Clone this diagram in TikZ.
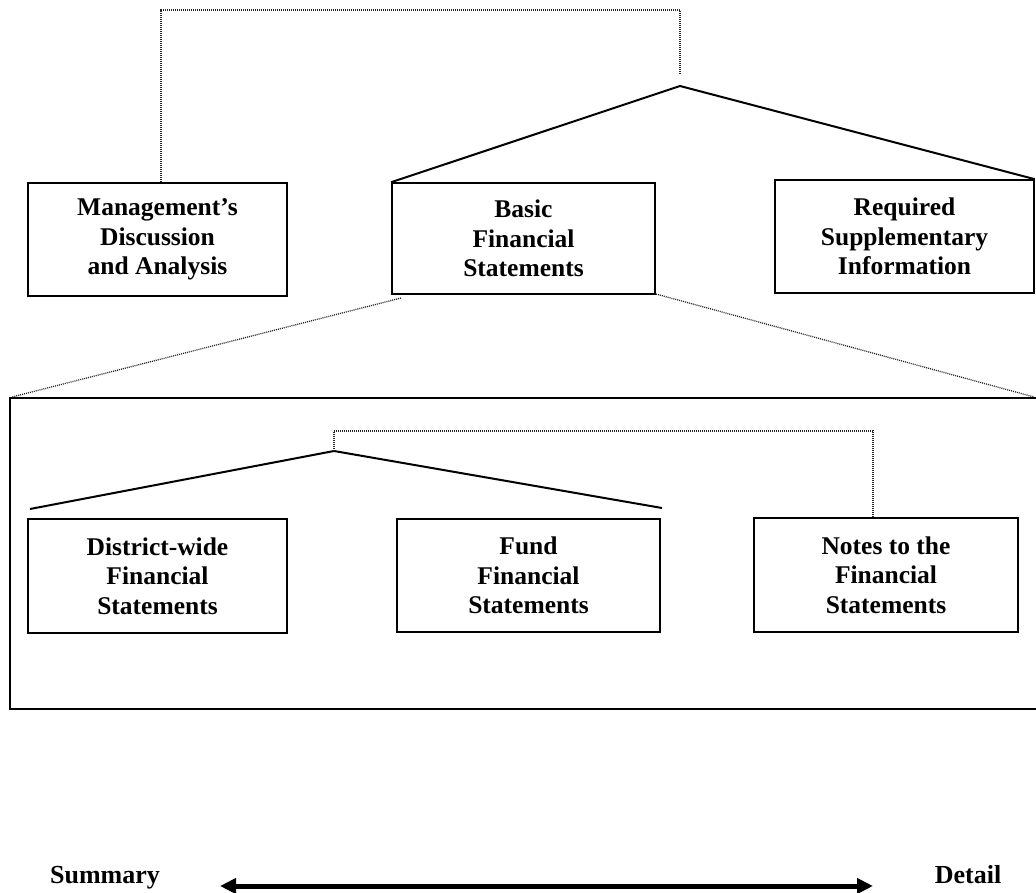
\documentclass[tikz,border=0pt]{standalone}
\usepackage{fontspec}
\setmainfont{Liberation Serif}
\usetikzlibrary{arrows.meta}
\begin{document}
\begin{tikzpicture}[x=1pt,y=-1pt,
  box/.style={draw=black,line width=1.6pt,align=center,inner sep=0pt,
    font=\fontsize{25.5}{29.5}\selectfont\bfseries},
  roof/.style={draw=black,line width=2pt,line join=miter},
  dotline/.style={draw=black!85,line width=1.3pt,dash pattern=on 1pt off 1pt},
  lbl/.style={font=\fontsize{26}{29}\selectfont\bfseries,inner sep=0pt,anchor=base}]
\useasboundingbox (0,0) rectangle (1036,893);
% top level boxes
\node[box,minimum width=259pt,minimum height=113pt] (mda) at (157.5,239.5)
  {Management's\\Discussion\\and Analysis};
\node[box,minimum width=263pt,minimum height=111pt] (bfs) at (523.5,238.5)
  {Basic\\Financial\\Statements};
\node[box,minimum width=259pt,minimum height=113pt] (rsi) at (904.5,236.5)
  {Required\\Supplementary\\Information};
% top connectors
\coordinate (apex) at (680,86);
\coordinate (topl) at (161,10);
\coordinate (topr) at (680,10);
\coordinate (topend) at (680,73);
\draw[dotline] (mda.north -| topl) -- (topl) -- (topr) -- (topend);
\draw[roof] (bfs.north west) -- (apex) -- (rsi.north east);
% container
\coordinate (ctl) at (10,398);
\coordinate (ctr) at (1036,398);
\coordinate (cbl) at (10,709);
\coordinate (cbr) at (1036,709);
\draw[line width=1.6pt] (ctr) -- (ctl) -- (cbl) -- (cbr);
\coordinate (bfsl) at (401,298);
\coordinate (bfsr) at (656,294);
\draw[dotline] (bfsl) -- (12,397);
\draw[dotline] (bfsr) -- (1034,397);
% inner boxes
\node[box,minimum width=259pt,minimum height=114pt] (dw) at (157.5,576)
  {District-wide\\Financial\\Statements};
\node[box,minimum width=263pt,minimum height=113pt] (fund) at (528.5,575.5)
  {Fund\\Financial\\Statements};
\node[box,minimum width=264pt,minimum height=114pt] (notes) at (886,575)
  {Notes to the\\Financial\\Statements};
% inner connectors
\coordinate (iapex) at (334,451);
\coordinate (iroofl) at (30,509);
\coordinate (iroofr) at (662,508);
\coordinate (itopl) at (334,431);
\coordinate (itopr) at (873,431);
\draw[roof] (iroofl) -- (iapex) -- (iroofr);
\draw[dotline] (iapex) -- (itopl) -- (itopr) -- (notes.north -| itopr);
% bottom scale
\node[lbl] (sum) at (105,883) {Summary};
\node[lbl] (det) at (968,883) {Detail};
\coordinate (al) at (220,886);
\coordinate (ar) at (873,886);
\draw[line width=5pt,{Triangle[length=16pt,width=15pt]}-{Triangle[length=16pt,width=15pt]}] (al) -- (ar);
\end{tikzpicture}
\end{document}
